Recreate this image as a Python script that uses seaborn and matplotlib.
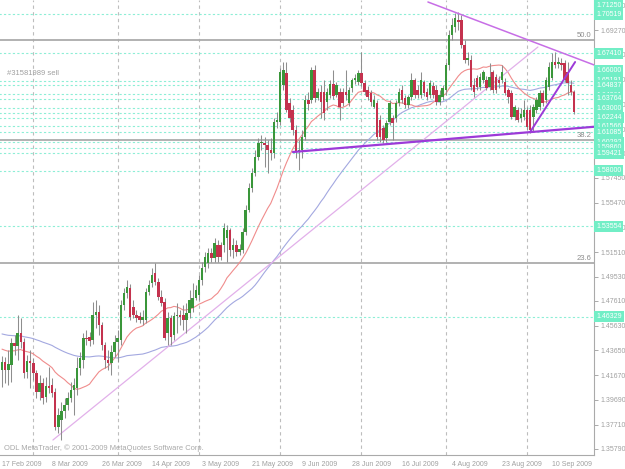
import numpy as np
import pandas as pd
import matplotlib
matplotlib.use("Agg")
import matplotlib.pyplot as plt
import matplotlib.transforms as mtransforms
import seaborn as sns

# ---------------- data ----------------
opens = [
    1.4207, 1.4271, 1.4207, 1.4247, 1.4423, 1.4399, 1.4503, 1.4431, 1.4191, 1.4279,
    1.4263, 1.4183, 1.4031, 1.4103, 1.3991, 1.4079, 1.4087, 1.4031, 1.3751, 1.3807,
    1.3879, 1.3927, 1.3983, 1.4047, 1.4063, 1.4223, 1.4287, 1.4463, 1.4471, 1.4447,
    1.4647, 1.4671, 1.4567, 1.4407, 1.4287, 1.4263, 1.4351, 1.4431, 1.4447, 1.4727,
    1.4823, 1.4863, 1.4711, 1.4647, 1.4639, 1.4607, 1.4607, 1.4831, 1.4903, 1.4983,
    1.4911, 1.4791, 1.4751, 1.4503, 1.4623, 1.4487, 1.4639, 1.4647, 1.4647, 1.4607,
    1.4663, 1.4703, 1.4783, 1.4807, 1.4927, 1.5031, 1.5063, 1.5143, 1.5103, 1.5207,
    1.5207, 1.5207, 1.5263, 1.5327, 1.5167, 1.5207, 1.5151, 1.5167, 1.5311, 1.5487,
    1.5663, 1.5783, 1.5911, 1.6023, 1.6023, 1.6007, 1.5967, 1.5943, 1.6191, 1.6191,
    1.6487, 1.6583, 1.6343, 1.6287, 1.6127, 1.5951, 1.5967, 1.6071, 1.6367, 1.6367,
    1.6607, 1.6383, 1.6431, 1.6431, 1.6351, 1.6407, 1.6495, 1.6407, 1.6431, 1.6431,
    1.6431, 1.6343, 1.6463, 1.6527, 1.6511, 1.6583, 1.6503, 1.6447, 1.6423, 1.6311,
    1.6343, 1.6207, 1.6143, 1.6063, 1.6191, 1.6223, 1.6223, 1.6343, 1.6447, 1.6383,
    1.6327, 1.6391, 1.6527, 1.6447, 1.6407, 1.6511, 1.6431, 1.6407, 1.6479, 1.6447,
    1.6351, 1.6391, 1.6447, 1.6647, 1.6887, 1.6951, 1.7007, 1.7007, 1.6807, 1.6687,
    1.6687, 1.6487, 1.6543, 1.6471, 1.6527, 1.6527, 1.6471, 1.6591, 1.6551, 1.6527,
    1.6527, 1.6511, 1.6447, 1.6423, 1.6231, 1.6287, 1.6223, 1.6231, 1.6287, 1.6287,
    1.6231, 1.6287, 1.6311, 1.6423, 1.6367, 1.6471, 1.6543, 1.6671, 1.6655, 1.6663,
    1.6663, 1.6591, 1.6487, 1.6431,
]
highs = [
    1.4319, 1.4311, 1.4367, 1.4463, 1.4487, 1.4647, 1.4623, 1.4463, 1.4327, 1.4367,
    1.4303, 1.4207, 1.4167, 1.4143, 1.4151, 1.4231, 1.4143, 1.4063, 1.3903, 1.3951,
    1.3983, 1.4031, 1.4111, 1.4143, 1.4311, 1.4351, 1.4503, 1.4527, 1.4511, 1.4751,
    1.4767, 1.4727, 1.4591, 1.4431, 1.4367, 1.4407, 1.4487, 1.4527, 1.4767, 1.4863,
    1.4927, 1.4895, 1.4767, 1.4687, 1.4671, 1.4687, 1.4863, 1.4927, 1.5023, 1.5063,
    1.4943, 1.4847, 1.4783, 1.4671, 1.4647, 1.4671, 1.4743, 1.4687, 1.4727, 1.4743,
    1.4847, 1.4903, 1.4887, 1.4967, 1.5071, 1.5151, 1.5183, 1.5183, 1.5263, 1.5247,
    1.5231, 1.5383, 1.5367, 1.5343, 1.5263, 1.5247, 1.5215, 1.5343, 1.5527, 1.5703,
    1.5823, 1.5967, 1.6063, 1.6087, 1.6071, 1.6047, 1.6063, 1.6223, 1.6271, 1.6623,
    1.6671, 1.6671, 1.6383, 1.6327, 1.6167, 1.6047, 1.6127, 1.6407, 1.6431, 1.6631,
    1.6647, 1.6463, 1.6487, 1.6527, 1.6463, 1.6527, 1.6607, 1.6511, 1.6463, 1.6463,
    1.6607, 1.6471, 1.6543, 1.6575, 1.6607, 1.6751, 1.6527, 1.6479, 1.6447, 1.6407,
    1.6367, 1.6247, 1.6167, 1.6207, 1.6367, 1.6247, 1.6367, 1.6463, 1.6487, 1.6407,
    1.6407, 1.6583, 1.6543, 1.6487, 1.6591, 1.6527, 1.6463, 1.6527, 1.6511, 1.6487,
    1.6447, 1.6487, 1.6671, 1.6927, 1.7023, 1.7063, 1.7071, 1.7047, 1.6847, 1.6751,
    1.6727, 1.6543, 1.6567, 1.6583, 1.6607, 1.6559, 1.6663, 1.6607, 1.6575, 1.6559,
    1.6647, 1.6543, 1.6463, 1.6447, 1.6327, 1.6311, 1.6303, 1.6367, 1.6311, 1.6327,
    1.6335, 1.6391, 1.6447, 1.6447, 1.6551, 1.6671, 1.6743, 1.6751, 1.6711, 1.6703,
    1.6687, 1.6671, 1.6527, 1.6447,
]
lows = [
    1.4071, 1.4103, 1.4087, 1.4111, 1.4327, 1.4287, 1.4383, 1.4143, 1.4143, 1.4063,
    1.4127, 1.3983, 1.3967, 1.3935, 1.3951, 1.4023, 1.3991, 1.3727, 1.3703, 1.3647,
    1.3823, 1.3887, 1.3951, 1.3847, 1.4007, 1.4167, 1.4223, 1.4407, 1.4399, 1.4415,
    1.4543, 1.4487, 1.4367, 1.4223, 1.4207, 1.4167, 1.4311, 1.4271, 1.4407, 1.4687,
    1.4783, 1.4607, 1.4623, 1.4591, 1.4583, 1.4567, 1.4583, 1.4807, 1.4871, 1.4887,
    1.4767, 1.4719, 1.4447, 1.4407, 1.4407, 1.4447, 1.4503, 1.4567, 1.4527, 1.4503,
    1.4623, 1.4671, 1.4767, 1.4767, 1.4887, 1.4991, 1.5023, 1.5071, 1.5071, 1.5071,
    1.5087, 1.5151, 1.5071, 1.5119, 1.5103, 1.5119, 1.5127, 1.5143, 1.5287, 1.5471,
    1.5631, 1.5759, 1.5887, 1.5967, 1.5831, 1.5783, 1.5887, 1.5903, 1.6143, 1.6167,
    1.6447, 1.6271, 1.6191, 1.6087, 1.5903, 1.5807, 1.5903, 1.6047, 1.6287, 1.6343,
    1.6351, 1.6367, 1.6223, 1.6207, 1.6287, 1.6383, 1.6375, 1.6391, 1.6207, 1.6319,
    1.6367, 1.6319, 1.6431, 1.6495, 1.6487, 1.6479, 1.6407, 1.6367, 1.6319, 1.6303,
    1.6047, 1.6031, 1.6023, 1.6031, 1.6167, 1.6047, 1.6191, 1.6319, 1.6343, 1.6303,
    1.6303, 1.6367, 1.6383, 1.6383, 1.6383, 1.6399, 1.6367, 1.6383, 1.6383, 1.6327,
    1.6327, 1.6367, 1.6407, 1.6607, 1.6847, 1.6911, 1.6927, 1.6783, 1.6663, 1.6647,
    1.6447, 1.6391, 1.6447, 1.6447, 1.6503, 1.6447, 1.6447, 1.6423, 1.6423, 1.6463,
    1.6503, 1.6407, 1.6343, 1.6215, 1.6207, 1.6191, 1.6191, 1.6207, 1.6127, 1.6103,
    1.6119, 1.6263, 1.6287, 1.6319, 1.6343, 1.6447, 1.6527, 1.6623, 1.6623, 1.6607,
    1.6511, 1.6407, 1.6407, 1.6255,
]
closes = [
    1.4271, 1.4207, 1.4255, 1.4423, 1.4399, 1.4503, 1.4431, 1.4183, 1.4279, 1.4263,
    1.4183, 1.4031, 1.4103, 1.3983, 1.4079, 1.4063, 1.4023, 1.3751, 1.3847, 1.3879,
    1.3927, 1.3983, 1.4047, 1.4087, 1.4223, 1.4303, 1.4463, 1.4455, 1.4439, 1.4647,
    1.4671, 1.4567, 1.4407, 1.4287, 1.4263, 1.4351, 1.4431, 1.4463, 1.4727, 1.4823,
    1.4871, 1.4631, 1.4647, 1.4623, 1.4607, 1.4631, 1.4831, 1.4887, 1.4967, 1.4911,
    1.4791, 1.4743, 1.4463, 1.4623, 1.4471, 1.4639, 1.4647, 1.4631, 1.4607, 1.4663,
    1.4767, 1.4783, 1.4847, 1.4927, 1.5023, 1.5111, 1.5143, 1.5103, 1.5223, 1.5111,
    1.5111, 1.5343, 1.5327, 1.5167, 1.5207, 1.5151, 1.5175, 1.5311, 1.5487, 1.5663,
    1.5783, 1.5911, 1.6023, 1.6031, 1.6007, 1.5967, 1.5943, 1.6191, 1.6207, 1.6591,
    1.6607, 1.6287, 1.6223, 1.6127, 1.5951, 1.5967, 1.6071, 1.6367, 1.6335, 1.6607,
    1.6383, 1.6431, 1.6351, 1.6263, 1.6431, 1.6495, 1.6399, 1.6487, 1.6311, 1.6343,
    1.6407, 1.6447, 1.6527, 1.6543, 1.6583, 1.6503, 1.6431, 1.6391, 1.6351, 1.6367,
    1.6071, 1.6071, 1.6047, 1.6183, 1.6343, 1.6183, 1.6343, 1.6431, 1.6367, 1.6327,
    1.6391, 1.6527, 1.6407, 1.6407, 1.6527, 1.6423, 1.6391, 1.6503, 1.6407, 1.6351,
    1.6407, 1.6463, 1.6647, 1.6887, 1.6967, 1.7023, 1.6991, 1.6807, 1.6687, 1.6703,
    1.6471, 1.6431, 1.6471, 1.6551, 1.6591, 1.6463, 1.6551, 1.6447, 1.6447, 1.6503,
    1.6591, 1.6423, 1.6391, 1.6231, 1.6311, 1.6207, 1.6255, 1.6287, 1.6151, 1.6127,
    1.6311, 1.6367, 1.6423, 1.6343, 1.6527, 1.6631, 1.6671, 1.6647, 1.6671, 1.6647,
    1.6527, 1.6503, 1.6431, 1.6271,
]

start_date = "2009-02-17"
x_labels = ["17 Feb 2009", "8 Mar 2009", "26 Mar 2009", "14 Apr 2009", "3 May 2009",
            "21 May 2009", "9 Jun 2009", "28 Jun 2009", "16 Jul 2009", "4 Aug 2009",
            "23 Aug 2009", "10 Sep 2009"]
y_ticks = [1.71250, 1.69270, 1.67290, 1.65310, 1.63330, 1.61350, 1.59370, 1.57450,
           1.55470, 1.53490, 1.51510, 1.49530, 1.47610, 1.45630, 1.43650, 1.41670,
           1.39690, 1.37710, 1.35790]
level_lines = [1.70519, 1.67410, 1.65191, 1.64837, 1.64140, 1.63764, 1.63000, 1.62600,
               1.62244, 1.61566, 1.61085, 1.60292, 1.59860, 1.59421, 1.58000, 1.53554,
               1.46329]
level_labels = ["1.71250", "1.70519", "1.67410", "1.66000", "1.65191", "1.64837",
                "1.64061", "1.63764", "1.63000", "1.62244", "1.61566", "1.61085",
                "1.60292", "1.59860", "1.59421", "1.58000", "1.53554", "1.46329"]
fib_levels = [1.6847, 1.6047, 1.5063]
fib_names = ["50.0", "38.2", "23.6"]
ma_fast_period = 18
ma_slow_period = 50
ma_fast_start = 1.438   # red MA value at the left edge
ma_slow_start = 1.450   # blue MA value at the left edge
# trendline anchors: (bar index, price)
resist_x, resist_y = [136.3, 189.5], [1.7151, 1.6647]
support_x, support_y = [93.1, 189.5], [1.5951, 1.6153]
rise_x, rise_y = [169.0, 183.4], [1.6111, 1.6671]
long_x, long_y = [16.3, 171.5], [1.3647, 1.6791]
order_text = "#31581989 sell"
order_price = 1.6583
copyright_text = "ODL MetaTrader, \u00a9 2001-2009 MetaQuotes Software Corp."

# ---------------- figure ----------------
sns.set_style("white")
plt.rcParams["font.family"] = ["Liberation Sans", "DejaVu Sans"]

n = len(closes)
o = np.array(opens); h = np.array(highs); l = np.array(lows); c = np.array(closes)
xs = np.arange(n)

days = pd.date_range(start_date, periods=400, freq="D")
bar_dates = days[days.dayofweek != 5][:n + 10]

fig = plt.figure(figsize=(6.25, 4.69), dpi=100)
fig.patch.set_facecolor("white")
ax = fig.add_axes([0, 14 / 469, 594 / 625, 455 / 469])
ax.set_facecolor("white")
ax.set_xlim(-0.64, 189.44)
ax.set_ylim(1.3527, 1.7167)

# monthly vertical grid
month_idx = [i for i in range(1, n) if bar_dates[i].month != bar_dates[i - 1].month]
for mi in month_idx:
    ax.axvline(mi, color="#BDBDBD", lw=0.8, ls=(0, (3, 3)), zorder=1)

# price level lines
ax.hlines(level_lines, -1, 200, colors="#8DEED6", linestyles=(0, (2, 2)), lw=0.8, zorder=1)

# fibo levels
for lv, nm in zip(fib_levels, fib_names):
    ax.axhline(lv, color="#ABABAB", lw=1.3, zorder=2)
    ax.text(188.6, lv + 0.0009, nm, ha="right", va="bottom", fontsize=5.5, color="#8C8C8C", zorder=6)

# moving averages (simple, warmed up with the value seen at the left edge)
fast = (pd.Series([ma_fast_start] * (ma_fast_period - 1) + closes)
        .rolling(ma_fast_period).mean().iloc[ma_fast_period - 1:].values)
slow = (pd.Series([ma_slow_start] * (ma_slow_period - 1) + closes)
        .rolling(ma_slow_period).mean().iloc[ma_slow_period - 1:].values)
sns.lineplot(x=xs, y=slow, ax=ax, color="#A3A8E0", lw=0.8, legend=False, zorder=3)
sns.lineplot(x=xs, y=fast, ax=ax, color="#F08C8C", lw=0.8, legend=False, zorder=3)

# trendlines
sns.lineplot(x=long_x, y=long_y, ax=ax, color="#E2B0EA", lw=0.9, legend=False, zorder=3)
sns.lineplot(x=resist_x, y=resist_y, ax=ax, color="#C76EE6", lw=1.1, legend=False, zorder=5)
sns.lineplot(x=support_x, y=support_y, ax=ax, color="#9C3AD8", lw=1.6, legend=False, zorder=5)
sns.lineplot(x=rise_x, y=rise_y, ax=ax, color="#9C3AD8", lw=1.4, legend=False, zorder=5)

# candles
up = c >= o
body_col = np.where(up, "#3A963A", "#C4324E")
ax.vlines(xs, l, h, color="#8E8E8E", lw=0.75, zorder=4)
bottom = np.minimum(o, c)
height = np.maximum(np.abs(c - o), 0.0004)
ax.bar(xs, height, bottom=bottom, width=0.8, color=body_col, lw=0, zorder=4.5)

# texts
ax.text(1.6, order_price, order_text, ha="left", va="center", fontsize=5.5, color="#A0A0A0", zorder=6)
ax.text(0.007, 0.016, copyright_text, transform=ax.transAxes, ha="left", va="center",
        fontsize=5.4, color="#A8A8A8", zorder=6)

# axes styling
for s in ["top", "left"]:
    ax.spines[s].set_visible(False)
for s in ["right", "bottom"]:
    ax.spines[s].set_color("#AAAAAA")
    ax.spines[s].set_linewidth(0.8)

ax.yaxis.tick_right()
ax.set_yticks(y_ticks)
ax.set_yticklabels([f"{v:.5f}" for v in y_ticks])
ax.tick_params(axis="y", colors="#AAAAAA", labelcolor="#A0A0A0", labelsize=5, length=3, width=0.7, pad=2)

lab_dates = [pd.to_datetime(s, format="%d %b %Y") for s in x_labels]
lab_idx = [int(np.where(bar_dates == d)[0][0]) for d in lab_dates]
ax.set_xticks(lab_idx)
ax.set_xticklabels(x_labels, ha="left")
ax.tick_params(axis="x", colors="#AAAAAA", labelcolor="#A0A0A0", labelsize=5, length=3, width=0.7, pad=1.5)

# highlighted price labels on the right axis
trans = mtransforms.blended_transform_factory(ax.transAxes, ax.transData)
for k, lab in enumerate(level_labels):
    ax.text(1.0035, float(lab), lab, transform=trans, ha="left", va="center", fontsize=5,
            color="white", clip_on=False, zorder=10 + k,
            bbox=dict(boxstyle="square,pad=0.28", fc="#72EEC6", ec="none"))

ax.set_xlabel("")
ax.set_ylabel("")
fig.savefig("out.png", dpi=100, facecolor="white")
